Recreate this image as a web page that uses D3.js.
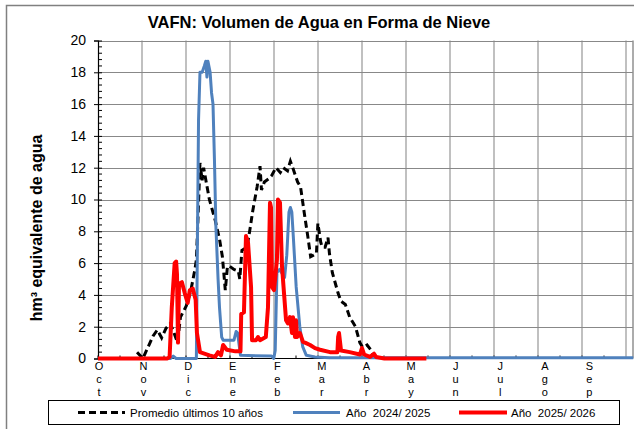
<!DOCTYPE html>
<html>
<head>
<meta charset="utf-8">
<script src="https://cdn.jsdelivr.net/npm/d3@7"></script>
<style>
  body { margin: 0; background: #fff; }
  svg { display: block; font-family: "Liberation Sans", Arial, sans-serif; }
</style>
</head>
<body>
<div id="chart"></div>
<script>
// month labels (season starts in October)
var months = ['Oct', 'Nov', 'Dic', 'Ene', 'Feb', 'Mar', 'Abr', 'May', 'Jun', 'Jul', 'Ago', 'Sep'];
var yTicks = [0, 2, 4, 6, 8, 10, 12, 14, 16, 18, 20];

// series: [day of season (0 = 1 Oct), hm3]
var promedio = [
  [27, 0.4], [31, 0], [35, 0.8], [38, 1.4], [41, 1.8], [44, 1.3], [47, 1.9], [50, 2.2], [53, 1.5],
  [55, 1.0], [57, 2.6], [61, 3.3], [64, 4.2], [67, 5.6], [68, 6.2], [69, 8.5], [70.5, 12.3],
  [72, 11.2], [73, 12.0], [75, 11.0], [77, 10], [81, 8.7], [84, 7.5], [86, 6.4], [88, 4.3],
  [89.5, 5.8], [91, 5.8], [94, 5.6], [97, 5.5], [98, 5.0], [99.5, 6.8], [103, 7.0], [105, 8.1],
  [107, 9.3], [110, 10.8], [112, 12.1], [113, 10.6], [115, 11.1], [118, 11.3], [120, 11.5],
  [123, 12.0], [126, 11.7], [128, 12.0], [131, 11.8], [133, 12.4], [135, 11.9], [138, 11.1],
  [140, 10.8], [143, 8.9], [145, 7.7], [147, 6.4], [149, 6.5], [151, 6.6], [152, 8.5], [154, 7.3],
  [155, 7.0], [157, 7.0], [159, 7.6], [160, 6.6], [162, 5.4], [166, 4.1], [168, 3.6], [171, 3.4],
  [174, 2.6], [178, 2.0], [181, 1.0], [183, 0.7], [186, 0.85], [189, 0.5], [191, 0.1], [194, 0]
];

var anio2425 = [
  [0, 0], [50, 0], [52, 0.15], [54, 0], [68, 0], [69.5, 15], [70.5, 18.0], [72, 18.0], [73.5, 18.4],
  [74.5, 18.7], [75.3, 17.7], [76, 18.7], [77.5, 18.0], [78.5, 16.7], [79.5, 16.0], [80.5, 12.5],
  [81.5, 8.3], [83, 5.0], [84, 3.2], [85.5, 1.35], [86.5, 1.15], [94, 1.15], [95.5, 1.7],
  [96.5, 1.6], [98.5, 0.2], [120, 0.15], [121.5, 0], [122.5, 0.5], [123.7, 5.4], [125.5, 5.6],
  [129, 5.1], [130.5, 6.5], [132, 9.2], [133, 9.5], [134, 9.2], [135, 7.7], [137, 4.5],
  [139.5, 2.0], [141.5, 0.75], [144, 0.2], [150, 0.1], [160, 0.05], [370, 0.05]
];

var anio2526 = [
  [0, 0], [48, 0], [49.5, 0.1], [51, 3.2], [53, 6.0], [54, 6.1], [54.6, 5.3], [55.3, 1.0], [56, 4.7],
  [58, 4.8], [60, 4.1], [62, 3.5], [63.5, 4.3], [65.5, 4.4], [67.5, 3.7], [68.4, 1.6], [70.5, 0.4],
  [77, 0.2], [81, 0.1], [83, 0.4], [85, 0.2], [86.5, 0.85], [89, 0.55], [95, 0.45], [98.5, 0.45],
  [99, 2.8], [100.9, 2.9], [102.3, 7.7], [103.7, 7.3], [105.8, 4.5], [106.5, 1.15], [109.2, 1.15],
  [110.6, 1.35], [112, 1.15], [116, 1.35], [117.5, 3.2], [118.9, 9.8], [119.6, 9.5], [120.3, 4.5],
  [121.7, 4.3], [123.7, 6.2], [124.4, 10.0], [125.8, 9.8], [127.2, 5.8], [128.6, 4.1], [130, 2.4],
  [131.3, 2.2], [132.7, 2.6], [134.1, 1.6], [134.8, 2.6], [136.2, 1.35], [136.9, 2.4], [137.6, 1.35],
  [139.6, 1.6], [141.7, 1.05], [143.1, 1.0], [146.6, 0.85], [150, 0.65], [153.5, 0.55], [160.4, 0.4],
  [165.5, 0.4], [166, 1.35], [166.6, 1.6], [168, 0.5], [174, 0.4], [181, 0.25], [182.5, 0.65],
  [184, 0.25], [188, 0.1], [190.8, 0.3], [192.2, 0.1], [198, 0], [227, 0]
];

function drawChart() {
  var svgWidth = 634;
  var svgHeight = 429;

  var svg = d3.select('#chart')
    .append('svg')
    .attr('width', svgWidth)
    .attr('height', svgHeight);

  // outer chart border (runs off the right/bottom edge like the original)
  svg.append('rect')
    .attr('x', 6.5).attr('y', 5.5)
    .attr('width', 640).attr('height', 440)
    .attr('fill', 'none')
    .attr('stroke', '#808080')
    .attr('stroke-width', 1.5);

  // plot area edges
  var pLeft = 98, pRight = 633, pTop = 40.5, pBottom = 358.5;

  // x in days, one month ~ 44px, season of 365 days ends at the last gridline
  var x = d3.scaleLinear().domain([0, 365]).range([pLeft, 626]);
  var y = d3.scaleLinear().domain([0, 20]).range([pBottom, pTop]);
  // month labels are spread over the whole plot width
  var xLab = d3.scaleLinear().domain([0, 12]).range([pLeft + 1, pRight + 1]);

  // vertical gridlines at month starts
  svg.append('g')
    .selectAll('line')
    .data(d3.range(1, 13))
    .enter()
    .append('line')
    .attr('x1', d => x(d * 365 / 12))
    .attr('x2', d => x(d * 365 / 12))
    .attr('y1', pTop)
    .attr('y2', pBottom)
    .attr('stroke', '#c0c0c0')
    .attr('stroke-width', 2);

  // horizontal gridlines
  svg.append('g')
    .selectAll('line')
    .data(yTicks.slice(1))
    .enter()
    .append('line')
    .attr('x1', pLeft)
    .attr('x2', pRight)
    .attr('y1', d => Math.round(y(d)) + 0.5)
    .attr('y2', d => Math.round(y(d)) + 0.5)
    .attr('stroke', '#888')
    .attr('stroke-width', 1.2);

  // right border of plot
  svg.append('line')
    .attr('x1', pRight).attr('x2', pRight)
    .attr('y1', pTop).attr('y2', pBottom)
    .attr('stroke', '#909090')
    .attr('stroke-width', 1.5);

  // y axis
  var leftAxis = d3.axisLeft(y)
    .tickValues(yTicks)
    .tickSize(4)
    .tickPadding(8)
    .tickFormat(d3.format('d'));

  var yAxis = svg.append('g')
    .attr('transform', `translate(${pLeft}, 0)`)
    .call(leftAxis);
  yAxis.select('.domain').attr('stroke', '#000').attr('stroke-width', 1.2);
  yAxis.selectAll('.tick line').attr('x2', 4).attr('x1', -4).attr('stroke', '#000');
  yAxis.selectAll('.tick text')
    .attr('font-size', 14)
    .attr('fill', '#000')
    .attr('font-family', '"Liberation Sans", Arial, sans-serif');

  // minor y ticks every 0.4
  svg.append('g')
    .selectAll('line')
    .data(d3.range(0, 20, 0.4).filter(d => Math.abs(d / 2 - Math.round(d / 2)) > 0.01))
    .enter()
    .append('line')
    .attr('x1', pLeft)
    .attr('x2', pLeft + 4)
    .attr('y1', d => y(d))
    .attr('y2', d => y(d))
    .attr('stroke', '#000');

  // x axis line and small half-month ticks
  svg.append('line')
    .attr('x1', pLeft).attr('x2', pRight)
    .attr('y1', pBottom).attr('y2', pBottom)
    .attr('stroke', '#000')
    .attr('stroke-width', 1.2);

  svg.append('g')
    .selectAll('line')
    .data(d3.range(0, 24))
    .enter()
    .append('line')
    .attr('x1', d => x(d * 365 / 24))
    .attr('x2', d => x(d * 365 / 24))
    .attr('y1', pBottom)
    .attr('y2', pBottom - 3)
    .attr('stroke', '#000');

  // month labels written vertically, one letter per line
  var labels = svg.append('g')
    .attr('font-size', 11)
    .attr('fill', '#000')
    .attr('text-anchor', 'middle');

  months.forEach(function(m, i) {
    m.split('').forEach(function(ch, j) {
      labels.append('text')
        .attr('x', xLab(i))
        .attr('y', 370 + j * 13)
        .text(ch);
    });
  });

  // lines
  var line = d3.line()
    .x(d => x(d[0]))
    .y(d => y(d[1]));

  svg.append('path')
    .datum(promedio)
    .attr('d', line)
    .attr('fill', 'none')
    .attr('stroke', '#000')
    .attr('stroke-width', 3)
    .attr('stroke-dasharray', '7,4');

  svg.append('path')
    .datum(anio2425)
    .attr('d', line)
    .attr('fill', 'none')
    .attr('stroke', '#4f81bd')
    .attr('stroke-width', 3)
    .attr('stroke-linejoin', 'round');

  svg.append('path')
    .datum(anio2526)
    .attr('d', line)
    .attr('fill', 'none')
    .attr('stroke', '#ff0000')
    .attr('stroke-width', 4)
    .attr('stroke-linejoin', 'round');

  // title
  svg.append('text')
    .attr('x', 319)
    .attr('y', 28)
    .attr('text-anchor', 'middle')
    .attr('font-size', 16.5)
    .attr('font-weight', 'bold')
    .text('VAFN: Volumen de Agua en Forma de Nieve');

  // y axis title
  svg.append('text')
    .attr('transform', 'rotate(-90)')
    .attr('x', -228)
    .attr('y', 42)
    .attr('text-anchor', 'middle')
    .attr('font-size', 16)
    .attr('font-weight', 'bold')
    .text('hm³ equivalente de agua');

  // legend
  var legend = svg.append('g');
  legend.append('rect')
    .attr('x', 48.5).attr('y', 400.5)
    .attr('width', 571).attr('height', 24)
    .attr('fill', '#fff')
    .attr('stroke', '#000');

  var legendItems = [
    { label: 'Promedio últimos 10 años', color: '#000', width: 3, dash: '7,4', x0: 78, x1: 125, tx: 130 },
    { label: 'Año  2024/ 2025', color: '#4f81bd', width: 3, dash: null, x0: 293, x1: 340, tx: 346 },
    { label: 'Año  2025/ 2026', color: '#ff0000', width: 4, dash: null, x0: 459, x1: 507, tx: 511 }
  ];

  legendItems.forEach(function(d) {
    legend.append('line')
      .attr('x1', d.x0).attr('x2', d.x1)
      .attr('y1', 412.5).attr('y2', 412.5)
      .attr('stroke', d.color)
      .attr('stroke-width', d.width)
      .attr('stroke-dasharray', d.dash);
    legend.append('text')
      .attr('x', d.tx)
      .attr('y', 416.5)
      .attr('font-size', 11.5)
      .style('white-space', 'pre')
      .text(d.label);
  });
}

drawChart();
</script>
</body>
</html>
